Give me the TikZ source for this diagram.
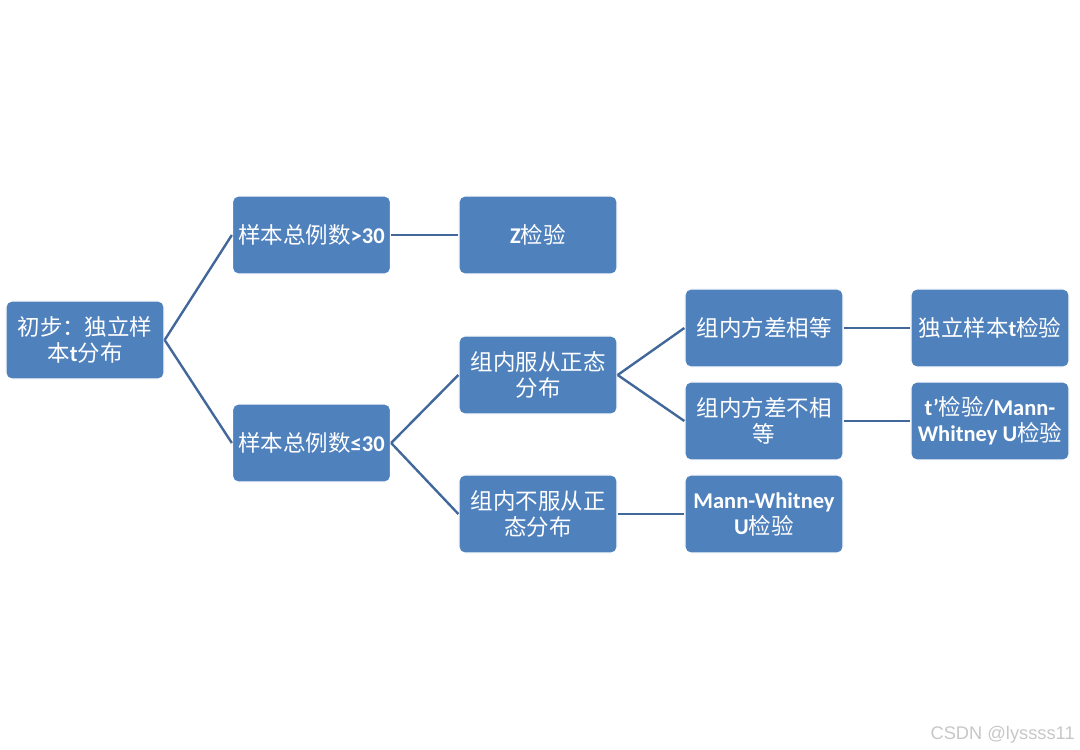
\documentclass[tikz,border=0pt]{standalone}
\usepackage{fontspec}
\setmainfont{Carlito}
\newfontfamily\cjk{Noto Sans CJK SC}
\newfontfamily\wmfont{Liberation Sans}
\usepackage{xcolor}
\usepackage{tikz}
\definecolor{boxblue}{HTML}{4F81BD}
\definecolor{linkblue}{HTML}{41679B}
\newcommand{\zh}[1]{{\cjk\mdseries #1}}

\begin{document}
\begin{tikzpicture}[x=0.025cm,y=-0.025cm,
    box/.style={draw=white,line width=0.9pt,fill=boxblue,rounded corners=4pt,
      minimum width=3.95cm,minimum height=1.95cm,inner sep=1pt,align=center,
      text=white,font=\fontsize{16}{18.5}\selectfont\bfseries},
    link/.style={draw=linkblue,line width=1.7pt}]
  \useasboundingbox (0,0) rectangle (1080,750);
  % boxes
  \node[box] (root) at (85,340) {\zh{初步：独立样}\\\zh{本}t\zh{分布}};
  \node[box] (big) at (311.5,235) {\zh{样本总例数}>30};
  \node[box] (small) at (311.5,443) {\zh{样本总例数}≤30};
  \node[box] (ztest) at (538,235) {Z\zh{检验}};
  \node[box] (normal) at (538,375) {\zh{组内服从正态}\\\zh{分布}};
  \node[box] (nonnormal) at (538,514) {\zh{组内不服从正}\\\zh{态分布}};
  \node[box] (eqvar) at (764,328) {\zh{组内方差相等}};
  \node[box] (neqvar) at (764,421) {\zh{组内方差不相}\\\zh{等}};
  \node[box] (mwu) at (764,514) {Mann-Whitney\\U\zh{检验}};
  \node[box] (ttest) at (990,328) {\zh{独立样本}t\zh{检验}};
  \node[box] (tprime) at (990,421) {t’\zh{检验}/Mann-\\Whitney U\zh{检验}};
  % connectors
  \draw[link] (root.east) -- (big.west);
  \draw[link] (root.east) -- (small.west);
  \draw[link] (big.east) -- (ztest.west);
  \draw[link] (small.east) -- (normal.west);
  \draw[link] (small.east) -- (nonnormal.west);
  \draw[link] (normal.east) -- (eqvar.west);
  \draw[link] (normal.east) -- (neqvar.west);
  \draw[link] (nonnormal.east) -- (mwu.west);
  \draw[link] (eqvar.east) -- (ttest.west);
  \draw[link] (neqvar.east) -- (tprime.west);
  % watermark
  \node[anchor=east,text=black!22,font=\wmfont\fontsize{13}{15}\selectfont,inner sep=0pt]
    (mark) at (1075,735) {CSDN @lyssss11};
\end{tikzpicture}
\end{document}
